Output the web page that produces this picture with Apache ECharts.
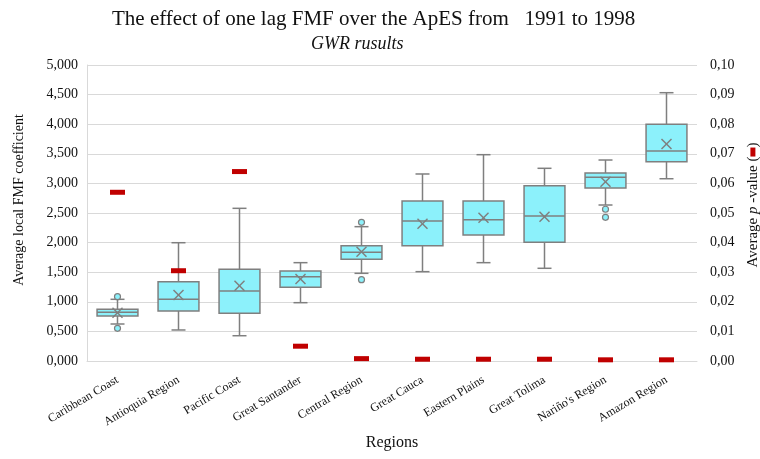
<!DOCTYPE html>
<html>
<meta charset="UTF-8">
<title>GWR results boxplot</title>
<style type="text/css">
    html,
    body {
        margin: 0px;
        height: 100%;
        width: 100%;
        background: #fff;
    }

    #chart {
        width: 760px;
        height: 459px;
    }
</style>
<script src="https://cdn.jsdelivr.net/npm/echarts@6/dist/echarts.min.js"></script>

<body>
    <div id="chart"></div>
    <script>
        const categories = ['Caribbean Coast', 'Antioquia Region', 'Pacific Coast', 'Great Santander', 'Central Region',
            'Great Cauca', 'Eastern Plains', 'Great Tolima', 'Nariño\'s Region', 'Amazon Region'];
        // box statistics (FMF coefficient)
        const lowWhisker = [0.625, 0.524, 0.427, 0.985, 1.481, 1.509, 1.661, 1.566, 2.635, 3.079];
        const q1 = [0.760, 0.845, 0.806, 1.245, 1.718, 1.948, 2.128, 2.005, 2.922, 3.367];
        const median = [0.823, 1.042, 1.182, 1.424, 1.836, 2.365, 2.387, 2.449, 3.103, 3.547];
        const q3 = [0.873, 1.340, 1.549, 1.520, 1.948, 2.703, 2.703, 2.961, 3.176, 3.998];
        const highWhisker = [1.042, 1.998, 2.579, 1.661, 2.269, 3.159, 3.485, 3.255, 3.395, 4.532];
        const means = [0.816, 1.115, 1.272, 1.385, 1.847, 2.320, 2.421, 2.438, 3.029, 3.666];
        const outliers = [[0, 1.086], [0, 0.552], [4, 2.343], [4, 1.373], [8, 2.563], [8, 2.427]];
        // average p-value per region
        const pValues = [0.057, 0.0305, 0.064, 0.005, 0.0008, 0.0006, 0.0006, 0.0006, 0.0004, 0.0004];

        const serif = 'Liberation Serif';
        const gray = '#7f7f7f';
        const cyan = '#8cf1fb';

        const boxData = categories.map((c, i) => [i, lowWhisker[i], q1[i], median[i], q3[i], highWhisker[i], means[i]]);

        function renderBox(params, api) {
            const i = api.value(0);
            const w = api.size([1, 0])[0] * 0.67;
            const cap = 14;
            const pt = (k) => api.coord([i, api.value(k)]);
            const lo = pt(1), b1 = pt(2), md = pt(3), b3 = pt(4), hi = pt(5), mn = pt(6);
            const x = lo[0];
            const line = { stroke: gray, lineWidth: 1.5 };
            const m = 5;
            return {
                type: 'group',
                children: [
                    { type: 'line', shape: { x1: x, y1: lo[1], x2: x, y2: b1[1] }, style: line },
                    { type: 'line', shape: { x1: x, y1: b3[1], x2: x, y2: hi[1] }, style: line },
                    { type: 'line', shape: { x1: x - cap / 2, y1: lo[1], x2: x + cap / 2, y2: lo[1] }, style: line },
                    { type: 'line', shape: { x1: x - cap / 2, y1: hi[1], x2: x + cap / 2, y2: hi[1] }, style: line },
                    {
                        type: 'rect', shape: { x: x - w / 2, y: b3[1], width: w, height: b1[1] - b3[1] },
                        style: { fill: cyan, stroke: gray, lineWidth: 1.5 }
                    },
                    { type: 'line', shape: { x1: x - w / 2, y1: md[1], x2: x + w / 2, y2: md[1] }, style: line },
                    { type: 'line', shape: { x1: x - m, y1: mn[1] - m, x2: x + m, y2: mn[1] + m }, style: line },
                    { type: 'line', shape: { x1: x - m, y1: mn[1] + m, x2: x + m, y2: mn[1] - m }, style: line }
                ]
            };
        }

        const chart = echarts.init(document.querySelector('#chart'));
        const options = {
            animation: false,
            textStyle: { fontFamily: serif },
            title: [
                {
                    text: 'The effect of one lag FMF over the ApES from   1991 to 1998',
                    left: 107,
                    top: 4,
                    textStyle: { fontFamily: serif, fontSize: 21, fontWeight: 'normal', color: '#111' }
                },
                {
                    text: 'GWR rusults',
                    left: 306,
                    top: 30,
                    textStyle: { fontFamily: serif, fontSize: 18, fontWeight: 'normal', fontStyle: 'italic', color: '#111' }
                }
            ],
            grid: { left: 87, right: 63, top: 65, bottom: 98, outerBoundsMode: 'none' },
            xAxis: {
                type: 'category',
                data: categories,
                name: 'Regions',
                nameLocation: 'middle',
                nameGap: 74,
                nameTextStyle: { fontFamily: serif, fontSize: 16, color: '#111' },
                axisLine: { lineStyle: { color: '#d9d9d9' } },
                axisTick: { show: false },
                axisLabel: { interval: 0, rotate: 31, fontFamily: serif, fontSize: 12, color: '#111', margin: 18 }
            },
            yAxis: [
                {
                    type: 'value',
                    min: 0,
                    max: 5,
                    interval: 0.5,
                    name: 'Average local FMF coefficient',
                    nameLocation: 'middle',
                    nameGap: 61,
                    nameTextStyle: { fontFamily: serif, fontSize: 14, color: '#111', padding: [0, 0, 0, 26] },
                    axisLine: { show: true, lineStyle: { color: '#d9d9d9' } },
                    axisTick: { show: false },
                    splitLine: { lineStyle: { color: '#d9d9d9' } },
                    axisLabel: {
                        fontFamily: serif, fontSize: 14, color: '#111', margin: 9,
                        formatter: (v) => v.toFixed(3).replace('.', ',')
                    }
                },
                {
                    type: 'value',
                    min: 0,
                    max: 0.1,
                    interval: 0.01,
                    name: '{n|Average }{i|p}{n| -value (}{mark|}{n|)}',
                    nameLocation: 'middle',
                    nameGap: 46,
                    nameTextStyle: {
                        padding: [0, 0, 0, 16],
                        rich: {
                            n: { fontFamily: serif, fontSize: 15, color: '#111' },
                            i: { fontFamily: serif, fontSize: 15, fontStyle: 'italic', color: '#111' },
                            mark: { width: 9, height: 5, backgroundColor: '#c00000' }
                        }
                    },
                    axisLine: { show: false },
                    axisTick: { show: false },
                    splitLine: { show: false },
                    axisLabel: {
                        fontFamily: serif, fontSize: 14, color: '#111', margin: 13,
                        formatter: (v) => v.toFixed(2).replace('.', ',')
                    }
                }
            ],
            series: [
                {
                    type: 'custom',
                    renderItem: renderBox,
                    data: boxData,
                    encode: { x: 0, y: [1, 2, 3, 4, 5] },
                    z: 2
                },
                {
                    type: 'scatter',
                    data: outliers,
                    symbol: 'circle',
                    symbolSize: 6,
                    itemStyle: { color: cyan, borderColor: gray, borderWidth: 1.2, opacity: 1 },
                    z: 3
                },
                {
                    type: 'scatter',
                    yAxisIndex: 1,
                    data: pValues.map((v, i) => [i, v]),
                    symbol: 'rect',
                    symbolSize: [15, 5],
                    itemStyle: { color: '#c00000', opacity: 1 },
                    z: 4
                }
            ]
        };
        chart.setOption(options);
    </script>
</body>

</html>
